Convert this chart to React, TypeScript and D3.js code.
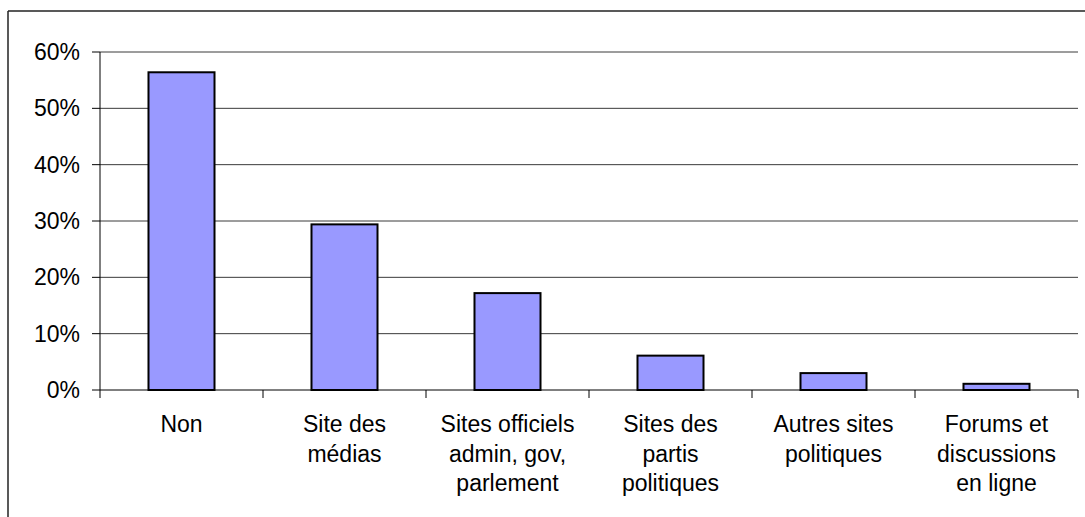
import React from "react";
import * as d3 from "d3";

const categories: string[][] = [
  ["Non"],
  ["Site des", "médias"],
  ["Sites officiels", "admin, gov,", "parlement"],
  ["Sites des", "partis", "politiques"],
  ["Autres sites", "politiques"],
  ["Forums et", "discussions", "en ligne"],
];
const values: number[] = [0.564, 0.294, 0.172, 0.061, 0.030, 0.011];
const yTicks: number[] = [0, 0.1, 0.2, 0.3, 0.4, 0.5, 0.6];

const W = 1085;
const H = 517;
const left = 100;
const right = 1078;
const top = 52;
const bottom = 390;
const FONT = "'Liberation Sans', Arial, sans-serif";

export default function App() {
  const keys = categories.map((c) => c.join(" "));
  const x = d3
    .scaleBand<string>()
    .domain(keys)
    .range([left, right])
    .paddingInner(0.595)
    .paddingOuter(0.2975);
  const y = d3.scaleLinear().domain([0, 0.6]).range([bottom, top]);
  const step = x.step();
  const fmt = d3.format(".0%");
  const boundaries = d3.range(keys.length + 1).map((i) => left + i * step);

  return (
    <svg
      width={W}
      height={H}
      style={{ position: "absolute", left: 0, top: 0, background: "#fff" }}
    >
      {/* outer frame */}
      <line x1={8} x2={W} y1={11} y2={11} stroke="#222" strokeWidth={1.5} />
      <line x1={8} x2={8} y1={11} y2={H} stroke="#222" strokeWidth={1.5} />

      {/* gridlines */}
      {yTicks.slice(1).map((t) => (
        <line
          key={"g" + t}
          x1={left}
          x2={right}
          y1={y(t)}
          y2={y(t)}
          stroke="#3a3a3a"
          strokeWidth={1}
        />
      ))}

      {/* y axis */}
      <line x1={left} x2={left} y1={top} y2={bottom} stroke="#000" strokeWidth={1} />
      {yTicks.map((t) => (
        <g key={"yt" + t}>
          <line x1={left - 8} x2={left} y1={y(t)} y2={y(t)} stroke="#000" strokeWidth={1} />
          <text
            x={left - 20}
            y={y(t)}
            dy="0.35em"
            textAnchor="end"
            fontFamily={FONT}
            fontSize={23}
            fill="#000"
          >
            {fmt(t)}
          </text>
        </g>
      ))}

      {/* bars */}
      {keys.map((k, i) => (
        <rect
          key={"b" + k}
          x={x(k)}
          y={y(values[i])}
          width={x.bandwidth()}
          height={y(0) - y(values[i])}
          fill="#9999FF"
          stroke="#000"
          strokeWidth={2}
        />
      ))}

      {/* x axis */}
      <line x1={left} x2={right} y1={bottom} y2={bottom} stroke="#000" strokeWidth={1} />
      {boundaries.map((b, i) => (
        <line key={"xt" + i} x1={b} x2={b} y1={bottom} y2={bottom + 8} stroke="#000" strokeWidth={1} />
      ))}
      {categories.map((lines, i) => (
        <text
          key={"xl" + i}
          textAnchor="middle"
          fontFamily={FONT}
          fontSize={23}
          fill="#000"
        >
          {lines.map((ln, j) => (
            <tspan key={j} x={(x(keys[i]) as number) + x.bandwidth() / 2} y={432 + j * 29.5}>
              {ln}
            </tspan>
          ))}
        </text>
      ))}
    </svg>
  );
}
